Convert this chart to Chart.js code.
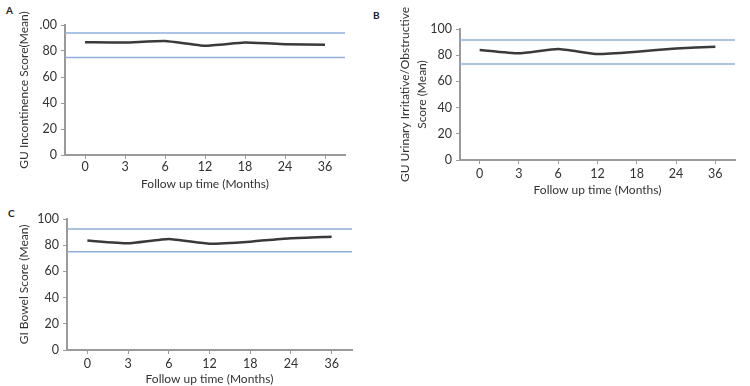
<!DOCTYPE html>
<html><head><meta charset="utf-8">
<script src="https://cdn.jsdelivr.net/npm/chart.js@4"></script>
<style>
body{margin:0;background:#fff;width:750px;height:386px;position:relative;overflow:hidden;font-family:Lato,sans-serif}
.p{position:absolute}
.l{position:absolute;font:bold 10px Lato,sans-serif;color:#222;line-height:10px}
</style></head><body>
<div class="l" style="left:6px;top:5px">A</div>
<div class="l" style="left:373px;top:10px">B</div>
<div class="l" style="left:8px;top:208px">C</div>
<div class="p" style="left:0;top:0"><canvas id="cA" width="360" height="195"></canvas></div>
<div class="p" style="left:370px;top:0"><canvas id="cB" width="380" height="200"></canvas></div>
<div class="p" style="left:0;top:200px"><canvas id="cC" width="360" height="186"></canvas></div>
<script>
const months = ['0','3','6','12','18','24','36'];
const incontinence = [86.7, 86.5, 87.7, 84.0, 86.5, 85.2, 84.9];
const incontinenceBand = [75, 93.8];
const urinary = [84.0, 81.4, 84.7, 80.9, 82.7, 85.2, 86.5];
const urinaryBand = [73.3, 91.6];
const bowel = [83.5, 81.4, 84.7, 81.1, 82.7, 85.3, 86.5];
const bowelBand = [75, 92.4];
const yTicks = [0, 20, 40, 60, 80, 100];
const yTickLabelsA = ['0', '20', '40', '60', '80', '.00'];
const yTickLabels = ['0', '20', '40', '60', '80', '100'];
const xTitle = 'Follow up time (Months)';

const bandPlugin = {
  id: 'bandLines',
  beforeDatasetsDraw(chart, args, opts) {
    const {ctx, chartArea} = chart;
    const y = chart.scales.y;
    ctx.save();
    ctx.strokeStyle = '#8fb0dc';
    ctx.lineWidth = 1.6;
    (opts.values || []).forEach(v => {
      const py = y.getPixelForValue(v);
      ctx.beginPath();
      ctx.moveTo(chartArea.left, py);
      ctx.lineTo(chartArea.right, py);
      ctx.stroke();
    });
    ctx.restore();
  }
};

const FONT = {family: 'Lato, sans-serif', size: 12.5};
const TXT = '#333';
const AX = '#9a9a9a';

function make(id, values, band, yTitle, yLabels, g) {
  return new Chart(document.getElementById(id), {
    type: 'line',
    data: {labels: months, datasets: [{data: values, borderColor: '#3a3a3a', borderWidth: 2.5, pointRadius: 0, tension: 0.15, fill: false}]},
    plugins: [bandPlugin],
    options: {
      responsive: false, animation: false,
      layout: {padding: {left: g.pl, top: g.pt, right: g.pr, bottom: 0}},
      plugins: {legend: {display: false}, tooltip: {enabled: false}, bandLines: {values: band}},
      scales: {
        x: {
          type: 'category', offset: true,
          grid: {drawOnChartArea: false, drawTicks: true, tickLength: 4, color: AX, offset: false},
          border: {color: AX, width: 2},
          ticks: {color: TXT, font: FONT, padding: g.xtp, maxRotation: 0, autoSkip: false},
          title: {display: true, text: xTitle, color: TXT, font: {family: 'Lato, sans-serif', size: 12}, padding: {top: 0, bottom: g.xtb}},
          afterFit: s => { s.height = g.xh; }
        },
        y: {
          min: 0, max: 100,
          afterBuildTicks: s => { s.ticks = yTicks.map(v => ({value: v})); },
          grid: {drawOnChartArea: false, drawTicks: true, tickLength: 4, color: AX},
          border: {color: AX, width: 2},
          ticks: {color: TXT, font: FONT, padding: 4, callback: (v, i) => yLabels[i]},
          title: {display: true, text: yTitle, color: TXT, font: {family: 'Lato, sans-serif', size: 12, lineHeight: 1.4}, padding: {top: 4, bottom: 0}},
          afterFit: s => { s.width = g.yw; }
        }
      }
    }
  });
}

make('cA', incontinence, incontinenceBand, 'GU Incontinence Score(Mean)', yTickLabelsA,
  {pl: 12, pt: 25, pr: 15, yw: 53, xh: 40, xtp: 0, xtb: 4});
make('cB', urinary, urinaryBand, ['GU Urinary Irritative/Obstructive', 'Score (Mean)'], yTickLabels,
  {pl: 23, pt: 29, pr: 15, yw: 67, xh: 40, xtp: 2, xtb: 3});
make('cC', bowel, bowelBand, 'GI Bowel Score (Mean)', yTickLabels,
  {pl: 12, pt: 19, pr: 8, yw: 55, xh: 36, xtp: 2, xtb: 0});
</script>
</body></html>
